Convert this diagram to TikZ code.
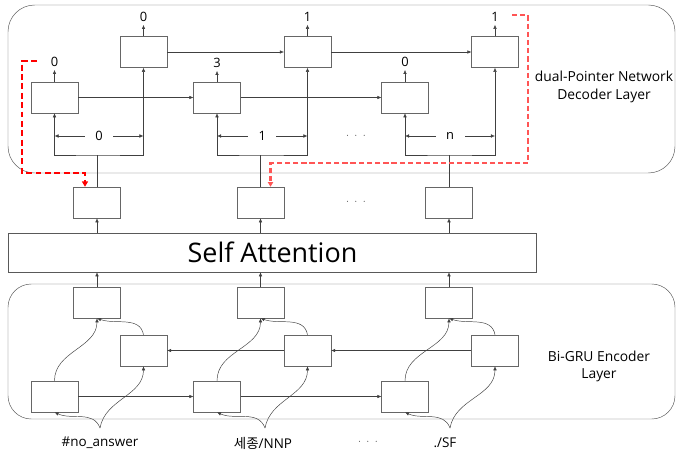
\documentclass[tikz,border=0pt]{standalone}
\usepackage{fontspec}
\setmainfont{Open Sans}
\newfontfamily\kofont{Noto Sans CJK KR}
\usetikzlibrary{arrows.meta}

\definecolor{fbred}{RGB}{255,85,85}

\begin{document}
\begin{tikzpicture}[x=0.03cm,y=0.03cm,
    cell/.style={draw=black!60,fill=white,minimum width=1.4cm,minimum height=0.93cm,inner sep=0pt},
    layer/.style={draw=black!65,rounded corners=0.8cm},
    link/.style={draw=black!75},
    arr/.style={link,-{Latex[length=3.5pt,width=3pt]}},
    twoarr/.style={link,{Latex[length=3.5pt,width=3pt]}-{Latex[length=3.5pt,width=3pt]}},
    lbl/.style={font=\fontsize{11}{13}\selectfont,inner sep=2.5pt},
    gap/.style={lbl,fill=white,inner xsep=9pt,inner ysep=0pt},
    dots/.style={font=\small,text=black!70},
    fbA/.style={draw=red,line width=1pt,dash pattern=on 5pt off 3pt,-{Triangle[length=4.5pt,width=5pt]}},
    fbB/.style={draw=fbred,line width=2pt,dash pattern=on 4.5pt off 2.5pt,-{Triangle[length=4pt,width=4.5pt]}}
]
\useasboundingbox (0,0) rectangle (677,-452);

% layers
\draw[layer] (8,-5) rectangle (675,-173);
\draw[layer,rounded corners=0.7cm] (8,-284) rectangle (675,-419);
\node[draw=black!65,minimum width=15.84cm,minimum height=1.17cm,font=\fontsize{23}{26}\selectfont] (sa) at (272.5,-252.5) {Self Attention};

% decoder cells
\node[cell] (a1) at (143.5,-52) {};
\node[cell] (a2) at (307.5,-52) {};
\node[cell] (a3) at (495,-52) {};
\node[cell] (b1) at (54.5,-97.5) {};
\node[cell] (b2) at (217,-97.5) {};
\node[cell] (b3) at (405,-97.5) {};

\node[lbl] (oa1) at (143.5,-17) {0};
\node[lbl] (oa2) at (307.5,-17) {1};
\node[lbl] (oa3) at (495,-17) {1};
\node[lbl] (ob1) at (54.5,-62) {0};
\node[lbl] (ob2) at (217,-63) {3};
\node[lbl] (ob3) at (405,-62) {0};

\draw[arr] (a1.north) -- (oa1.south);
\draw[arr] (a2.north) -- (oa2.south);
\draw[arr] (a3.north) -- (oa3.south);
\draw[arr] (b1.north) -- (ob1.south);
\draw[arr] (b2.north) -- (ob2.south);
\draw[arr] (b3.north) -- (ob3.south);

\draw[arr] (a1) -- (a2);
\draw[arr] (a2) -- (a3);
\draw[arr] (b1) -- (b2);
\draw[arr] (b2) -- (b3);

% self attention outputs
\node[cell] (m1) at (97,-202.5) {};
\node[cell] (m2) at (260.5,-202.5) {};
\node[cell] (m3) at (449,-202.5) {};

\coordinate (j1) at (97,-155);
\coordinate (j2) at (260.5,-155);
\coordinate (j3) at (449,-155);
\coordinate (h1) at (97,-136);
\coordinate (h2) at (260.5,-136);
\coordinate (h3) at (449,-136);

\draw[twoarr] (b1.south) |- (j1) -| (a1.south);
\draw[twoarr] (b2.south) |- (j2) -| (a2.south);
\draw[twoarr] (b3.south) |- (j3) -| (a3.south);
\draw[link] (m1.north) -- (j1);
\draw[link] (m2.north) -- (j2);
\draw[link] (m3.north) -- (j3);

\draw[twoarr] (b1.south |- h1) -- (a1.south |- h1) node[gap,midway] (p1) {0};
\draw[twoarr] (b2.south |- h2) -- (a2.south |- h2) node[gap,midway] (p2) {1};
\draw[twoarr] (b3.south |- h3) -- (a3.south |- h3) node[gap,midway] (p3) {n};

\node[dots] (dt1) at (356,-136) {$\cdot\;\cdot\;\cdot$};
\node[dots] (dt2) at (356,-202) {$\cdot\;\cdot\;\cdot$};

\draw[arr] (sa.north -| m1) -- (m1.south);
\draw[arr] (sa.north -| m2) -- (m2.south);
\draw[arr] (sa.north -| m3) -- (m3.south);

% feedback of pointers
\coordinate (fb1) at (37,-61);
\coordinate (fb2) at (512,-15);
\draw[fbA] (fb1) -| (22,-173) -| ([xshift=-0.36cm]m1.north);
\draw[fbB] (fb2) -| (528,-163) -| ([xshift=0.3cm]m2.north);

% encoder cells
\node[cell] (c1) at (97,-302.5) {};
\node[cell] (c2) at (260.5,-302.5) {};
\node[cell] (c3) at (449,-302.5) {};
\node[cell] (d1) at (143.5,-350.5) {};
\node[cell] (d2) at (307.5,-350.5) {};
\node[cell] (d3) at (495,-350.5) {};
\node[cell] (e1) at (54.5,-396.5) {};
\node[cell] (e2) at (217,-396.5) {};
\node[cell] (e3) at (405,-396.5) {};

\draw[arr] (c1.north) -- (sa.south -| c1);
\draw[arr] (c2.north) -- (sa.south -| c2);
\draw[arr] (c3.north) -- (sa.south -| c3);

\draw[arr] (e1) -- (e2);
\draw[arr] (e2) -- (e3);
\draw[arr] (d2) -- (d1);
\draw[arr] (d3) -- (d2);

\draw[arr] (e1.north) to[out=90,in=-90] (c1.south);
\draw[arr] (d1.north) to[out=100,in=-20] (c1.south);
\draw[arr] (e2.north) to[out=90,in=-90] (c2.south);
\draw[arr] (d2.north) to[out=100,in=-20] (c2.south);
\draw[arr] (e3.north) to[out=90,in=-90] (c3.south);
\draw[arr] (d3.north) to[out=100,in=-20] (c3.south);

% inputs
\coordinate (s1) at (100,-428);
\coordinate (s2) at (265,-428);
\coordinate (s3) at (450,-428);
\draw[arr] (s1) to[out=110,in=-25] (e1.south);
\draw[arr] (s1) to[out=80,in=-90] (d1.south);
\draw[arr] (s2) to[out=110,in=-25] (e2.south);
\draw[arr] (s2) to[out=80,in=-90] (d2.south);
\draw[arr] (s3) to[out=110,in=-25] (e3.south);
\draw[arr] (s3) to[out=80,in=-90] (d3.south);

\node[lbl,font=\fontsize{11.5}{13}\selectfont] (w1) at (100,-443) {\#no\_answer};
\node[lbl,font=\fontsize{11.5}{13}\selectfont] (w2) at (263,-443) {{\kofont 세종}/NNP};
\node[dots] (dt3) at (368,-442) {$\cdot\;\cdot\;\cdot$};
\node[lbl,font=\fontsize{11.5}{13}\selectfont] (w3) at (445,-443) {./SF};

% layer names
\node[align=center,font=\fontsize{11.8}{15.5}\selectfont] (dec) at (604,-87) {dual-Pointer Network\\Decoder Layer};
\node[align=center,font=\fontsize{11.8}{14.5}\selectfont] (enc) at (599,-366) {Bi-GRU Encoder\\Layer};
\end{tikzpicture}
\end{document}
